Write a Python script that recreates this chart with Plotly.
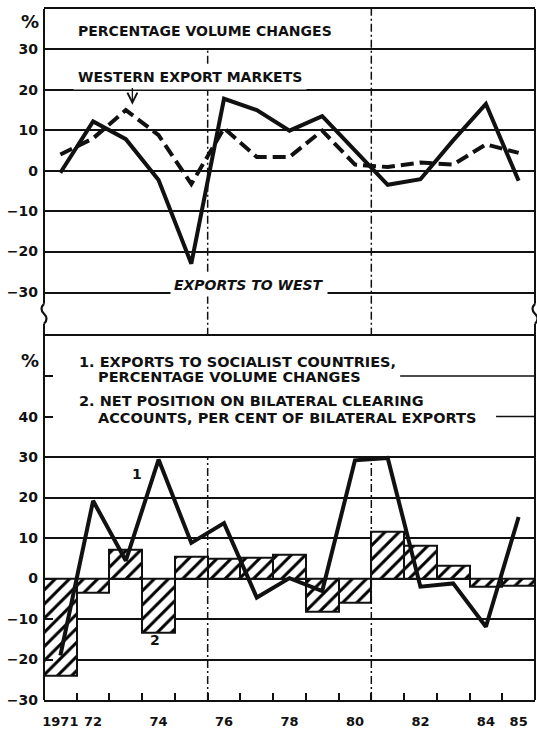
import plotly.graph_objects as go

# ---------------- data ----------------
years = list(range(1971, 1986))
exports_to_west = [-0.5, 12.2, 7.8, -2.3, -23.0, 17.8, 15.0, 9.9, 13.5, 5.0, -3.5, -2.1, 7.5, 16.5, -2.5]
western_markets = [4.0, 8.0, 15.0, 8.8, -3.3, 10.5, 3.4, 3.4, 9.9, 1.5, 0.9, 2.0, 1.5, 6.5, 4.4]
exports_socialist = [-19.0, 19.2, 4.4, 29.4, 8.8, 13.7, -4.7, 0.1, -3.1, 29.2, 29.8, -2.0, -1.2, -11.9, 15.2]
clearing_net = [-24.0, -3.6, 7.1, -13.3, 5.4, 4.9, 5.2, 5.8, -8.1, -5.9, 11.6, 8.2, 3.1, -1.9, -1.7]

xtick_vals = [1971, 1972, 1974, 1976, 1978, 1980, 1982, 1984, 1985]
xtick_text = ["1971", "72", "74", "76", "78", "80", "82", "84", "85"]
year_bounds = [y + 0.5 for y in years[:-1]]

top_ticks = [-30, -20, -10, 0, 10, 20, 30]
top_ticktext = ["−30", "−20", "−10", "0", "10", "20", "30"]
bot_ticks = [-30, -20, -10, 0, 10, 20, 30, 40, 50]
bot_ticktext = ["−30", "−20", "−10", "0", "10", "20", "30", "40", ""]
bot_grid = [-20, -10, 0, 10, 20, 30]

# ---------------- layout geometry ----------------
W, H = 537, 731
ML, MR, MT, MB = 44, 2, 9, 26
plot_w = W - ML - MR
plot_h = H - MT - MB
TOP_RANGE = [-30, 40]
BOT_RANGE = [-30, 60]
top_dom = [(H - MB - 294) / plot_h, 1.0]
bot_dom = [0.0, (H - MB - 338) / plot_h]


def p_top(v):
    return top_dom[0] + (top_dom[1] - top_dom[0]) * (v - TOP_RANGE[0]) / (TOP_RANGE[1] - TOP_RANGE[0])


def p_bot(v):
    return bot_dom[0] + (bot_dom[1] - bot_dom[0]) * (v - BOT_RANGE[0]) / (BOT_RANGE[1] - BOT_RANGE[0])


def px_x(dx):
    return dx / plot_w


def px_y(dy):
    return dy / plot_h


FONT = "DejaVu Sans"
BLACK = "#111111"

fig = go.Figure()

# top panel
fig.add_trace(go.Scatter(x=years, y=western_markets, mode="lines", xaxis="x2", yaxis="y",
                         line=dict(color=BLACK, width=4, dash="13px,6px"), hoverinfo="skip"))
fig.add_trace(go.Scatter(x=years, y=exports_to_west, mode="lines", xaxis="x2", yaxis="y",
                         line=dict(color=BLACK, width=4), hoverinfo="skip"))

# bottom panel
fig.add_trace(go.Bar(x=years, y=clearing_net, width=1.0, xaxis="x", yaxis="y2",
                     marker=dict(color="white", line=dict(color=BLACK, width=2),
                                 pattern=dict(shape="/", fgcolor="#000000", bgcolor="white",
                                              fgopacity=1, size=10, solidity=0.3)),
                     hoverinfo="skip"))
fig.add_trace(go.Scatter(x=years, y=exports_socialist, mode="lines", xaxis="x", yaxis="y2",
                         line=dict(color=BLACK, width=4), hoverinfo="skip"))

ytickfont = dict(family=FONT, size=14, color=BLACK, weight="bold")
xtickfont = dict(family=FONT, size=13, color=BLACK, weight="bold")

fig.update_layout(
    width=W, height=H,
    margin=dict(l=ML, r=MR, t=MT, b=MB, pad=0),
    paper_bgcolor="white", plot_bgcolor="white",
    showlegend=False,
    bargap=0,
    xaxis=dict(domain=[0, 1], anchor="y2", range=[1970.5, 1985.5],
               tickmode="array", tickvals=xtick_vals, ticktext=xtick_text,
               ticks="", showgrid=False, zeroline=False,
               showline=True, linecolor=BLACK, linewidth=2, mirror=True,
               tickfont=xtickfont, ticklabelstandoff=8,
               minor=dict(tickmode="array", tickvals=year_bounds, ticks="inside",
                          ticklen=7, tickwidth=1.5, tickcolor=BLACK, showgrid=False)),
    xaxis2=dict(domain=[0, 1], anchor="y", matches="x", range=[1970.5, 1985.5],
                showticklabels=False, ticks="", showgrid=False, zeroline=False,
                showline=True, mirror=True, linecolor=BLACK, linewidth=1.8),
    yaxis=dict(domain=top_dom, anchor="x2", range=TOP_RANGE,
               tickmode="array", tickvals=top_ticks, ticktext=top_ticktext,
               ticks="", showgrid=True, gridcolor=BLACK, gridwidth=1.5,
               zeroline=False, showline=False, tickfont=ytickfont,
               ticklabelstandoff=5),
    yaxis2=dict(domain=bot_dom, anchor="x", range=BOT_RANGE,
                tickmode="array", tickvals=bot_ticks, ticktext=bot_ticktext,
                ticks="inside", ticklen=9, tickwidth=1.5, tickcolor=BLACK,
                showgrid=False, zeroline=False, showline=False, tickfont=ytickfont,
                ticklabelstandoff=5,
                minor=dict(tickmode="array", tickvals=bot_grid, ticks="",
                           showgrid=True, gridcolor=BLACK, gridwidth=1.5)),
)

shapes = []
gap_mid = (p_bot(60) + p_top(-30)) / 2
half = px_y(10)
frame = dict(color=BLACK, width=2)
# frame sides with a break mark in the gap between the two panels
for xp in (0, 1):
    shapes.append(dict(type="line", xref="paper", yref="paper", x0=xp, x1=xp,
                       y0=0, y1=gap_mid - half, line=frame))
    shapes.append(dict(type="line", xref="paper", yref="paper", x0=xp, x1=xp,
                       y0=gap_mid + half, y1=1, line=frame))
    a = px_x(5)
    path = (f"M{xp},{gap_mid + half} "
            f"Q{xp - a},{gap_mid + half / 2} {xp},{gap_mid} "
            f"Q{xp + a},{gap_mid - half / 2} {xp},{gap_mid - half}")
    shapes.append(dict(type="path", xref="paper", yref="paper", path=path,
                       line=dict(color=BLACK, width=2.2)))
# vertical dash-dot reference lines
dd = dict(color=BLACK, width=1.5, dash="8px,3px,2px,3px")
shapes.append(dict(type="line", xref="x", yref="paper", x0=1975.5, x1=1975.5,
                   y0=p_bot(-30), y1=p_bot(30), line=dd))
shapes.append(dict(type="line", xref="x", yref="paper", x0=1975.5, x1=1975.5,
                   y0=p_bot(60), y1=p_top(30), line=dd))
shapes.append(dict(type="line", xref="x", yref="paper", x0=1980.5, x1=1980.5,
                   y0=p_bot(-30), y1=p_bot(30), line=dd))
shapes.append(dict(type="line", xref="x", yref="paper", x0=1980.5, x1=1980.5,
                   y0=p_bot(60), y1=1, line=dd))
# partial grid lines at 50 and 40 (right of the explanatory text)
shapes.append(dict(type="line", xref="x", yref="y2", x0=1981.38, x1=1985.5, y0=50, y1=50,
                   line=dict(color=BLACK, width=1.5)))
shapes.append(dict(type="line", xref="x", yref="y2", x0=1984.31, x1=1985.5, y0=40, y1=40,
                   line=dict(color=BLACK, width=1.5)))
fig.update_layout(shapes=shapes)

ann = []


def txt(text, x, y, xref, yref, size=14, xanchor="left", bg=None, pad=0, **kw):
    d = dict(text=text, x=x, y=y, xref=xref, yref=yref, showarrow=False,
             xanchor=xanchor, yanchor="middle",
             font=dict(family=FONT, size=size, color=BLACK, weight="bold"),
             borderpad=pad)
    if bg:
        d["bgcolor"] = bg
    d.update(kw)
    ann.append(d)


# top panel texts
txt("PERCENTAGE VOLUME CHANGES", 1971.52, 34.6, "x2", "y", bg="white", pad=3, xshift=-3)
txt("WESTERN EXPORT MARKETS", 1971.52, 23.2, "x2", "y", bg="white", pad=4, xshift=-4)
txt("<i>EXPORTS TO WEST</i>", 1974.44, -28.2, "x2", "y", bg="white", pad=3, xshift=-3)
txt("%", px_x(30 - ML), p_top(37.0), "paper", "paper", size=18, xanchor="center")

# arrow to western export markets
ann.append(dict(text="", x=1973.2, y=16.3, xref="x2", yref="y",
                ax=1973.2, ay=20.8, axref="x2", ayref="y",
                showarrow=True, arrowhead=5, arrowsize=1.5, arrowwidth=1.3,
                arrowcolor=BLACK))

# bottom panel texts
LS = 14.5
txt("1. EXPORTS TO SOCIALIST COUNTRIES,", 1971.54, 53.6, "x", "y2", size=LS)
txt("PERCENTAGE VOLUME CHANGES", 1972.13, 49.9, "x", "y2", size=LS)
txt("2. NET POSITION ON BILATERAL CLEARING", 1971.54, 43.8, "x", "y2", size=LS)
txt("ACCOUNTS, PER CENT OF BILATERAL EXPORTS", 1972.13, 39.6, "x", "y2", size=LS)
txt("%", px_x(30 - ML), p_bot(53.9), "paper", "paper", size=18, xanchor="center")
txt("1", 1973.34, 25.7, "x", "y2", xanchor="center")
txt("2", 1973.88, -15.2, "x", "y2", xanchor="center")

fig.update_layout(annotations=ann)

fig.write_html("out.html")
